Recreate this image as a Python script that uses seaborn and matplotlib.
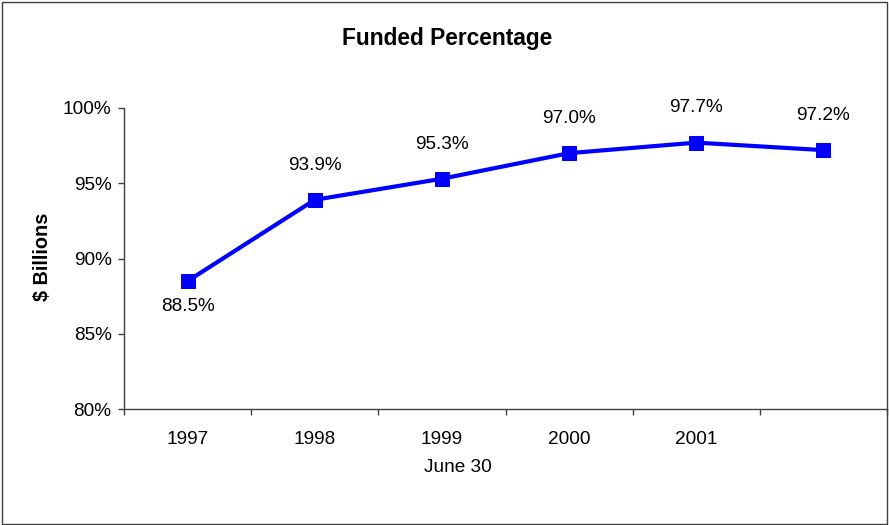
import matplotlib
matplotlib.use("Agg")
import matplotlib.pyplot as plt
from matplotlib.patches import Rectangle
from matplotlib.ticker import FixedLocator, PercentFormatter
import seaborn as sns
import pandas as pd

sns.set_theme(style="white")
plt.rcParams["font.family"] = ["Liberation Sans", "DejaVu Sans"]

# Funded ratio at June 30 of each year
years = ["1997", "1998", "1999", "2000", "2001", ""]
funded_pct = [88.5, 93.9, 95.3, 97.0, 97.7, 97.2]
label_above = [False, True, True, True, True, True]

df = pd.DataFrame({"pos": range(len(years)), "pct": [v / 100 for v in funded_pct]})

W, H = 889, 525
fig = plt.figure(figsize=(W / 100, H / 100), dpi=100)
ax = fig.add_axes([124 / W, 1 - 409 / H, (887 - 124) / W, (409 - 108) / H])

blue = "#0000FF"
fs = 13.7
sns.lineplot(data=df, x="pos", y="pct", ax=ax, color=blue, linewidth=3,
             marker="s", markersize=10, markeredgecolor=blue, markerfacecolor=blue)

for i, (v, up) in enumerate(zip(funded_pct, label_above)):
    ax.annotate(f"{v:.1f}%", (i, v / 100), xytext=(0, 25 if up else -18),
                textcoords="offset points", ha="center", va="center",
                fontsize=fs, color="black")

ax.set_xlim(-0.5, len(years) - 0.5)
ax.set_ylim(0.80, 1.00)
ax.yaxis.set_major_locator(FixedLocator([0.80, 0.85, 0.90, 0.95, 1.00]))
ax.yaxis.set_major_formatter(PercentFormatter(1.0, decimals=0))

ax.set_xticks(range(len(years)))
ax.set_xticklabels(years)
ax.xaxis.set_minor_locator(FixedLocator([i - 0.5 for i in range(len(years) + 1)]))
ax.tick_params(axis="x", which="major", length=0, pad=16, labelsize=fs, labelcolor="black")
ax.tick_params(axis="x", which="minor", length=4.5, width=1, color="#404040", direction="out", bottom=True)
ax.tick_params(axis="y", which="major", length=4, width=1, color="#404040", pad=5,
               labelsize=fs, labelcolor="black", left=True, direction="out")

for side in ("top", "right"):
    ax.spines[side].set_visible(False)
for side in ("left", "bottom"):
    ax.spines[side].set_color("#404040")
    ax.spines[side].set_linewidth(1)

ax.set_xlabel("")
ax.set_ylabel("")
ax.grid(False)

fig.text(447 / W, 1 - 38 / H, "Funded Percentage", ha="center", va="center",
         fontsize=16.4, fontweight="bold", color="black")
fig.text(43 / W, 1 - 257 / H, "$ Billions", ha="center", va="center", rotation=90,
         fontsize=14.3, fontweight="bold", color="black")
fig.text(458 / W, 1 - 468 / H, "June 30", ha="center", va="center",
         fontsize=fs, color="black")

fig.patches.append(Rectangle((2 / W, 1 / H), (887 - 2) / W, (523 - 1) / H,
                             transform=fig.transFigure, fill=False,
                             edgecolor="#404040", linewidth=1))

fig.savefig("out.png", dpi=100)
